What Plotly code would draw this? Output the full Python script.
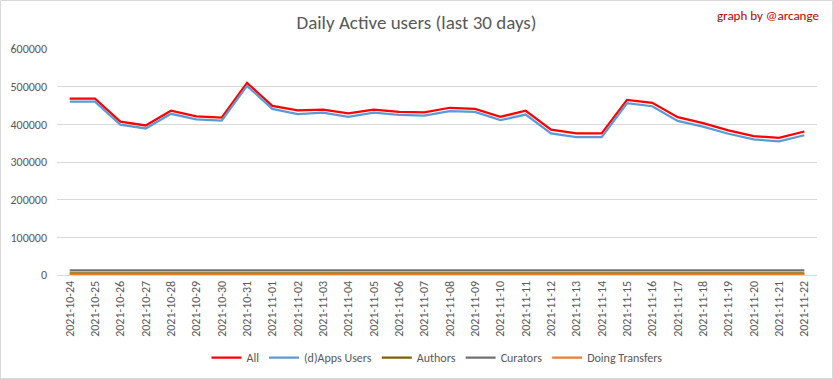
import plotly.graph_objects as go

dates = ["2021-10-24", "2021-10-25", "2021-10-26", "2021-10-27", "2021-10-28", "2021-10-29",
         "2021-10-30", "2021-10-31", "2021-11-01", "2021-11-02", "2021-11-03", "2021-11-04",
         "2021-11-05", "2021-11-06", "2021-11-07", "2021-11-08", "2021-11-09", "2021-11-10",
         "2021-11-11", "2021-11-12", "2021-11-13", "2021-11-14", "2021-11-15", "2021-11-16",
         "2021-11-17", "2021-11-18", "2021-11-19", "2021-11-20", "2021-11-21", "2021-11-22"]

all_users = [468000, 468000, 407000, 397000, 436000, 421000, 418000, 510000, 449000, 437000,
             439000, 429000, 439000, 433000, 432000, 444000, 441000, 420000, 436000, 386000,
             376000, 376000, 465000, 457000, 419000, 403000, 384000, 369000, 364000, 381000]

apps_users = [460000, 460000, 399000, 389000, 428000, 413000, 410000, 502000, 441000, 427000,
              431000, 420000, 431000, 425000, 423000, 435000, 433000, 411000, 426000, 376000,
              366000, 366000, 456000, 448000, 409000, 394000, 375000, 360000, 355000, 371000]

authors = [4000, 4000, 4000, 4000, 4000, 3800, 3800, 4000, 4000, 4000,
           4000, 4000, 4000, 3800, 4000, 4000, 4000, 4000, 4000, 4000,
           3800, 4000, 4000, 4000, 4000, 4000, 4000, 4000, 4000, 4000]

curators = [12000, 12000, 12000, 12000, 12000, 10500, 10500, 12000, 12000, 12000,
            12000, 12000, 12000, 10500, 12000, 12000, 12000, 12000, 12000, 12000,
            10500, 12000, 12000, 12000, 12000, 12000, 12000, 12000, 12000, 12000]

transfers = [2000, 2000, 2000, 2000, 2000, 2000, 2000, 2000, 2000, 2000,
             2000, 3000, 2000, 2000, 2000, 2000, 2000, 2000, 2000, 2000,
             2000, 2000, 2000, 3000, 2000, 2000, 2000, 2000, 2000, 2000]

y_ticks = [0, 100000, 200000, 300000, 400000, 500000, 600000]

series = [
    ("All", all_users, "#ff0000"),
    ("(d)Apps Users", apps_users, "#5b9bd5"),
    ("Authors", authors, "#7f6000"),
    ("Curators", curators, "#707070"),
    ("Doing Transfers", transfers, "#ed7d31"),
]

FONT = "Calibri, Carlito, Lato, 'Liberation Sans', sans-serif"

fig = go.Figure()
for name, vals, col in series:
    fig.add_trace(go.Scatter(x=dates, y=vals, mode="lines", name=name,
                             line=dict(color=col, width=2.25)))

W, H = 833, 379
ml, mr, mt, mb = 57, 16, 49, 104
pw, ph = W - ml - mr, H - mt - mb

fig.update_layout(
    width=W, height=H,
    margin=dict(l=ml, r=mr, t=mt, b=mb, pad=0, autoexpand=False),
    paper_bgcolor="white", plot_bgcolor="white",
    font=dict(family=FONT, color="#595959", size=11),
    title=dict(text="Daily Active users (last 30 days)", x=0.5, xref="container", xanchor="center",
               y=1 - 22 / H, yanchor="middle", automargin=False,
               font=dict(family=FONT, size=19, color="#595959")),
    showlegend=True,
    legend=dict(orientation="h", x=0.5, xanchor="center", xref="paper",
                y=-(358 - 275.5) / ph, yanchor="middle",
                font=dict(family=FONT, size=12, color="#595959"),
                itemwidth=30, tracegroupgap=0, bgcolor="rgba(0,0,0,0)"),
    xaxis=dict(type="category", range=[-0.5, len(dates) - 0.5], showgrid=False, automargin=False,
               tickangle=-90, tickfont=dict(family=FONT, size=12, color="#595959"),
               showline=True, linecolor="#d9d9d9", linewidth=1, ticks="", zeroline=False),
    yaxis=dict(range=[0, 600000], tickvals=y_ticks, ticktext=[str(v) for v in y_ticks],
               showgrid=True, gridcolor="#d9d9d9", gridwidth=1, zeroline=False, automargin=False,
               showline=False, ticks="", ticklen=0, ticklabelstandoff=9,
               tickfont=dict(family=FONT, size=12, color="#595959")),
    annotations=[dict(text="graph by @arcange", xref="paper", yref="paper",
                      x=(821 - ml) / pw, y=1 + (mt - 15) / ph, xanchor="right", yanchor="middle",
                      showarrow=False, font=dict(family=FONT, size=13, color="#c00000"))],
    shapes=[dict(type="rect", xref="paper", yref="paper",
                 x0=-(ml - 0.5) / pw, x1=1 + (mr - 0.5) / pw,
                 y0=-(mb - 0.5) / ph, y1=1 + (mt - 0.5) / ph,
                 line=dict(color="#d9d9d9", width=1), fillcolor="rgba(0,0,0,0)", layer="below")],
)

fig.write_html("out.html", config={"displayModeBar": False},
               post_script="document.body.style.margin='0';document.body.style.padding='0';"
                           "document.body.style.overflow='hidden';")
